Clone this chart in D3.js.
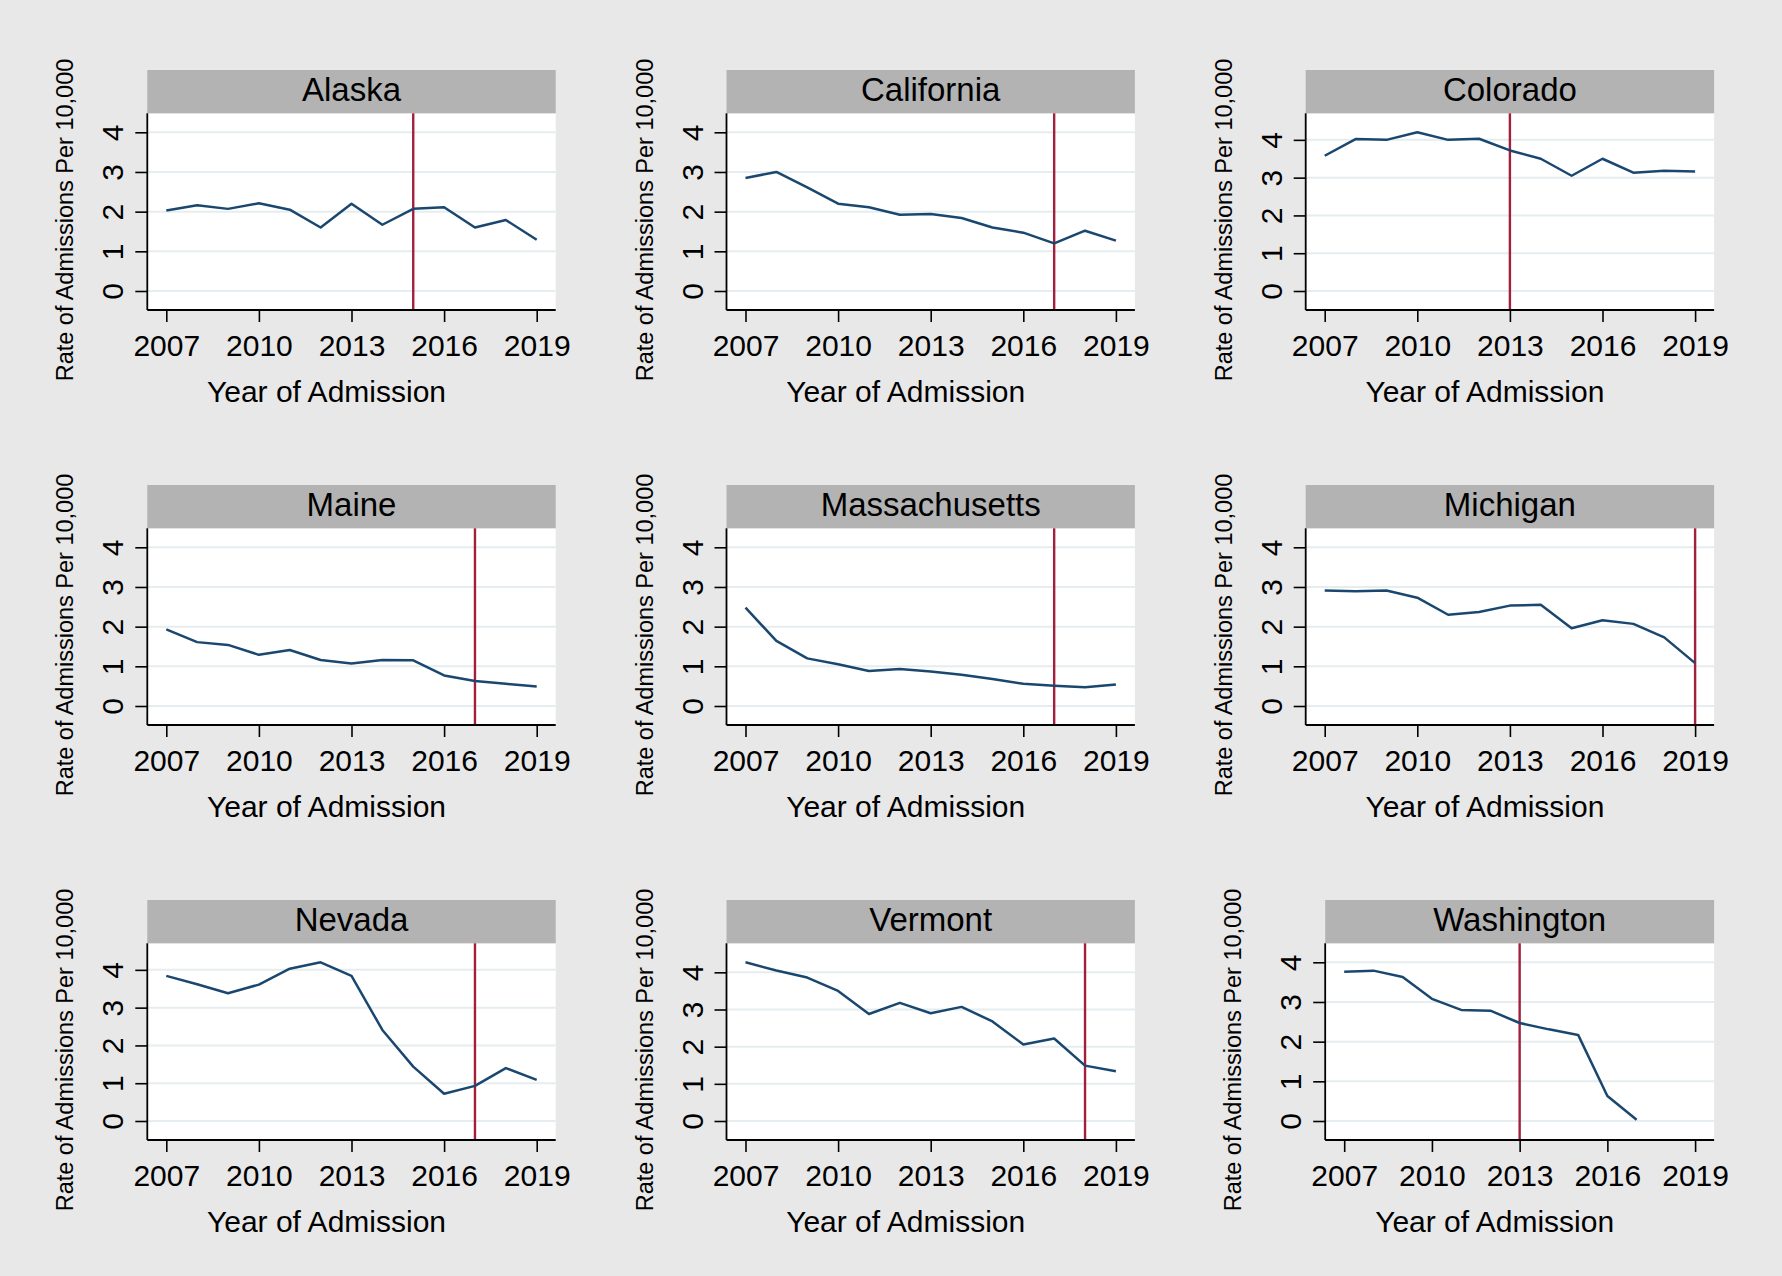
<!DOCTYPE html>
<html>
<head>
<meta charset="utf-8">
<script src="https://cdn.jsdelivr.net/npm/d3@7"></script>
<style>
  body { margin: 0; background: #e8e8e8; }
  text { font-family: "Liberation Sans", Arial, sans-serif; fill: #000; }
</style>
</head>
<body>
<script>
var states = ["Alaska", "California", "Colorado", "Maine", "Massachusetts", "Michigan", "Nevada", "Vermont", "Washington"];
var years = [2007, 2008, 2009, 2010, 2011, 2012, 2013, 2014, 2015, 2016, 2017, 2018, 2019];
var xTicks = [2007, 2010, 2013, 2016, 2019];
var yTicks = [0, 1, 2, 3, 4];

// rate of admissions per 10,000, by year
var alaska        = [2.03, 2.16, 2.07, 2.21, 2.05, 1.60, 2.20, 1.67, 2.07, 2.11, 1.60, 1.79, 1.29];
var california    = [2.85, 3.00, 2.61, 2.20, 2.11, 1.92, 1.94, 1.84, 1.60, 1.47, 1.20, 1.52, 1.27];
var colorado      = [3.58, 4.02, 4.00, 4.20, 4.00, 4.03, 3.72, 3.50, 3.05, 3.50, 3.13, 3.18, 3.16];
var maine         = [1.93, 1.61, 1.54, 1.29, 1.41, 1.16, 1.07, 1.16, 1.15, 0.77, 0.63, 0.56, 0.49];
var massachusetts = [2.48, 1.64, 1.20, 1.05, 0.88, 0.93, 0.87, 0.79, 0.68, 0.56, 0.51, 0.47, 0.54];
var michigan      = [2.91, 2.89, 2.91, 2.73, 2.30, 2.37, 2.53, 2.55, 1.96, 2.16, 2.07, 1.73, 1.08];
var nevada        = [3.84, 3.62, 3.38, 3.61, 4.03, 4.20, 3.84, 2.41, 1.44, 0.72, 0.93, 1.40, 1.09];
var vermont       = [4.27, 4.05, 3.86, 3.50, 2.88, 3.18, 2.90, 3.07, 2.68, 2.06, 2.22, 1.49, 1.34];
var washington    = [3.76, 3.79, 3.63, 3.08, 2.80, 2.78, 2.47, 2.31, 2.17, 0.63, 0.03];

var rates = [alaska, california, colorado, maine, massachusetts, michigan, nevada, vermont, washington];
// year of the policy change (red line)
var cutoffYears = [2015, 2017, 2013, 2017, 2017, 2019, 2017, 2018, 2013];

var width = 1782, height = 1276;
var colStep = 579.2, rowStep = 415;
var pad = 19;

var svg = d3.select("body").append("svg")
    .attr("width", width)
    .attr("height", height);

svg.append("rect")
    .attr("width", width)
    .attr("height", height)
    .attr("fill", "#e8e8e8");

states.forEach(function(name, i) {
    var col = i % 3, row = Math.floor(i / 3);
    var shift = name === "Washington" ? 19.5 : 0;
    var left = 147.3 + col * colStep + shift,
        right = 555.7 + col * colStep,
        stripTop = 70 + row * rowStep,
        top = stripTop + 43.3,
        bottom = stripTop + 240;

    var data = rates[i].map(function(v, j) { return {year: years[j], rate: v}; });

    var x = d3.scaleLinear().domain([2007, 2019]).range([left + pad, right - pad]);
    var y = d3.scaleLinear()
        .domain([0, Math.max(4, d3.max(rates[i]))])
        .range([bottom - pad, top + pad]);

    var g = svg.append("g");

    // plot region
    g.append("rect")
        .attr("x", left).attr("y", top)
        .attr("width", right - left).attr("height", bottom - top)
        .attr("fill", "#fff");

    // strip
    g.append("rect")
        .attr("x", left).attr("y", stripTop)
        .attr("width", right - left).attr("height", top - stripTop)
        .attr("fill", "#b3b3b3");
    g.append("text")
        .attr("x", (left + right) / 2).attr("y", stripTop + 30.7)
        .attr("text-anchor", "middle")
        .style("font-size", "33px")
        .text(name);

    // gridlines
    g.selectAll(".grid")
        .data(yTicks)
        .enter().append("line")
        .attr("x1", left).attr("x2", right)
        .attr("y1", function(d) { return y(d); })
        .attr("y2", function(d) { return y(d); })
        .attr("stroke", "#e6edf0")
        .attr("stroke-width", 2);

    // policy line
    g.append("line")
        .attr("x1", x(cutoffYears[i])).attr("x2", x(cutoffYears[i]))
        .attr("y1", top).attr("y2", bottom)
        .attr("stroke", "#a3203d")
        .attr("stroke-width", 2.4);

    // series
    g.append("path")
        .datum(data)
        .attr("fill", "none")
        .attr("stroke", "#1a476f")
        .attr("stroke-width", 2.5)
        .attr("stroke-linejoin", "round")
        .attr("d", d3.line()
            .x(function(d) { return x(d.year); })
            .y(function(d) { return y(d.rate); }));

    // y axis
    var ya = g.append("g")
        .attr("transform", "translate(" + left + ",0)")
        .call(d3.axisLeft(y).tickValues(yTicks).tickSize(12).tickSizeOuter(0)
            .tickFormat(d3.format("d")));
    ya.select(".domain").remove();
    ya.selectAll(".tick line").attr("stroke", "#000").attr("stroke-width", 1.6);
    ya.selectAll(".tick text")
        .attr("x", 0).attr("y", -24).attr("dy", 0)
        .attr("transform", "rotate(-90)")
        .attr("text-anchor", "middle")
        .style("font-size", "30px")
        .style("font-family", "'Liberation Sans', Arial, sans-serif");
    g.append("line")
        .attr("x1", left).attr("x2", left)
        .attr("y1", top).attr("y2", bottom)
        .attr("stroke", "#000").attr("stroke-width", 1.8);

    // x axis
    var xa = g.append("g")
        .attr("transform", "translate(0," + bottom + ")")
        .call(d3.axisBottom(x).tickValues(xTicks).tickSize(12).tickPadding(13)
            .tickSizeOuter(0).tickFormat(d3.format("d")));
    xa.select(".domain").remove();
    xa.selectAll(".tick line").attr("stroke", "#000").attr("stroke-width", 1.6);
    xa.selectAll(".tick text")
        .style("font-size", "30px")
        .style("font-family", "'Liberation Sans', Arial, sans-serif");
    g.append("line")
        .attr("x1", left).attr("x2", right)
        .attr("y1", bottom).attr("y2", bottom)
        .attr("stroke", "#000").attr("stroke-width", 1.8);

    // axis titles
    g.append("text")
        .attr("x", (left + right) / 2 - 25)
        .attr("y", bottom + 91.7)
        .attr("text-anchor", "middle")
        .style("font-size", "30px")
        .text("Year of Admission");

    var tx = 147.3 + col * colStep - 74 + shift / 2;
    g.append("text")
        .attr("transform", "translate(" + tx + "," + (stripTop + 150) + ") rotate(-90)")
        .attr("text-anchor", "middle")
        .style("font-size", "23.5px")
        .text("Rate of Admissions Per 10,000");
});
</script>
</body>
</html>
